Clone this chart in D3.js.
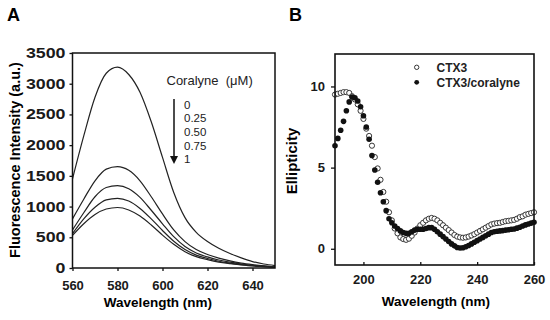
<!DOCTYPE html>
<html>
<head>
<meta charset="utf-8">
<script src="https://d3js.org/d3.v7.min.js"></script>
<style>
  body { margin: 0; background: #fff; }
  svg { font-family: Arial, "Liberation Sans", sans-serif; }
</style>
</head>
<body>
<svg id="chart" width="550" height="320"></svg>
<script>
// Panel A - fluorescence emission spectra
var wavelengthsA = [560, 565, 570, 575, 580, 585, 590, 595, 600, 605, 610, 615, 620, 625, 630, 635, 640, 645, 650];
var fluor0   = [1450, 2150, 2780, 3170, 3270, 3150, 2860, 2380, 1800, 1230, 820, 580, 430, 320, 235, 165, 105, 65, 40];
var fluor025 = [800, 1120, 1420, 1610, 1650, 1590, 1420, 1160, 880, 620, 430, 300, 220, 160, 115, 80, 55, 35, 20];
var fluor050 = [620, 900, 1160, 1310, 1340, 1290, 1150, 940, 720, 510, 350, 245, 180, 130, 95, 65, 45, 30, 18];
var fluor075 = [560, 800, 990, 1110, 1135, 1090, 970, 800, 610, 435, 300, 210, 155, 110, 80, 55, 38, 25, 15];
var fluor1   = [530, 720, 870, 960, 985, 945, 845, 700, 535, 385, 265, 185, 135, 95, 70, 50, 33, 22, 12];
var concLabels = ["0", "0.25", "0.50", "0.75", "1"];
var ticksAx = [560, 580, 600, 620, 640];
var ticksAy = [0, 500, 1000, 1500, 2000, 2500, 3000, 3500];

// Panel B - CD spectra, one point per nm from 190 to 260
var wavelengthsB = d3.range(190, 261);
var ctx3 = [9.5, 9.55, 9.6, 9.65, 9.65, 9.6, 9.4, 9.2, 8.9, 8.5,
  8.0, 7.4, 6.95, 6.35, 5.65, 4.95, 4.25, 3.5, 2.9, 2.25,
  1.75, 1.25, 0.95, 0.7, 0.6, 0.55, 0.62, 0.8, 1.0, 1.25,
  1.45, 1.6, 1.75, 1.85, 1.9, 1.85, 1.75, 1.6, 1.45, 1.3,
  1.15, 1.0, 0.85, 0.75, 0.7, 0.68, 0.7, 0.75, 0.82, 0.9,
  1.0, 1.1, 1.2, 1.3, 1.4, 1.5, 1.55, 1.58, 1.6, 1.65,
  1.7, 1.72, 1.75, 1.78, 1.85, 1.95, 2.0, 2.1, 2.15, 2.2, 2.25];
var ctx3Coralyne = [6.35, 6.8, 7.3, 7.85, 8.5, 9.05, 9.35, 9.3, 9.1, 8.75,
  8.2, 7.5, 6.75, 5.75, 4.85, 4.1, 3.45, 2.9, 2.35, 1.85,
  1.6, 1.4, 1.25, 1.1, 1.0, 0.95, 0.95, 1.05, 1.15, 1.2,
  1.2, 1.2, 1.25, 1.3, 1.3, 1.2, 1.05, 0.9, 0.75, 0.6,
  0.45, 0.3, 0.18, 0.08, 0.05, 0.06, 0.12, 0.2, 0.3, 0.4,
  0.5, 0.6, 0.7, 0.8, 0.9, 1.0, 1.05, 1.08, 1.1, 1.12,
  1.15, 1.17, 1.2, 1.22, 1.27, 1.33, 1.4, 1.47, 1.53, 1.58, 1.63];
var seriesB = ["CTX3", "CTX3/coralyne"];
var ticksBx = [200, 220, 240, 260];
var ticksBy = [0, 5, 10];

var svg = d3.select("#chart");

// tick text looks the same in both panels
function styleAxis(g) {
	g.select(".domain").remove();
	g.attr("font-family", null).attr("font-size", null);
	g.selectAll(".tick line").attr("stroke", "#111").attr("stroke-width", 1.3);
	g.selectAll(".tick text")
		.attr("font-size", "13px")
		.attr("font-weight", "bold")
		.attr("fill", "#1a1a1a");
}

// ---------- Panel A ----------
var xA = d3.scaleLinear().domain([560, 650]).range([72.5, 275]);
var yA = d3.scaleLinear().domain([0, 3500]).range([268, 53]);

var gA = svg.append("g");

gA.append("g")
	.attr("transform", "translate(0,268)")
	.call(d3.axisBottom(xA).tickValues(ticksAx).tickFormat(d3.format("d")).tickSize(3).tickPadding(10))
	.call(styleAxis);

// the y labels of panel A are drawn wide in the original
gA.append("g")
	.attr("transform", "translate(72.5,0)")
	.call(d3.axisLeft(yA).tickValues(ticksAy).tickFormat(d3.format("d")).tickSize(3).tickPadding(4))
	.call(styleAxis)
	.selectAll(".tick text")
	.attr("font-size", "14px")
	.attr("lengthAdjust", "spacingAndGlyphs")
	.attr("textLength", function(d) { return String(d).length * 9.9; });

var lineA = d3.line()
	.x(function(d) { return xA(d[0]); })
	.y(function(d) { return yA(d[1]); })
	.curve(d3.curveMonotoneX);

[fluor0, fluor025, fluor050, fluor075, fluor1].forEach(function(s) {
	gA.append("path")
		.datum(wavelengthsA.map(function(w, i) { return [w, s[i]]; }))
		.attr("fill", "none")
		.attr("stroke", "#222")
		.attr("stroke-width", 1.2)
		.attr("d", lineA);
});

gA.append("rect")
	.attr("x", xA(560)).attr("y", yA(3500))
	.attr("width", xA(650) - xA(560)).attr("height", yA(0) - yA(3500))
	.attr("fill", "none").attr("stroke", "#111").attr("stroke-width", 1.5);

// legend with arrow
gA.append("text").attr("x", 166.5).attr("y", 85)
	.attr("font-size", "13px").attr("fill", "#222")
	.style("white-space", "pre")
	.text("Coralyne  (\u03bcM)");
gA.append("line")
	.attr("x1", 174).attr("x2", 174).attr("y1", 99).attr("y2", 158)
	.attr("stroke", "#111").attr("stroke-width", 1.5);
gA.append("path")
	.attr("d", "M170,156 L178,156 L174,164 Z")
	.attr("fill", "#111");
gA.selectAll(".conc").data(concLabels).enter().append("text")
	.attr("x", 184)
	.attr("y", function(d, i) { return 108.5 + i * 13.7; })
	.attr("font-size", "11.5px").attr("fill", "#222")
	.text(function(d) { return d; });

gA.append("text").attr("x", xA(598)).attr("y", 307)
	.attr("text-anchor", "middle").attr("font-size", "13.5px").attr("font-weight", "bold")
	.text("Wavelength (nm)");
gA.append("text").attr("transform", "translate(20,160) rotate(-90)")
	.attr("text-anchor", "middle").attr("font-size", "14.5px").attr("font-weight", "bold")
	.text("Fluorescence Intensity (a.u.)");
gA.append("text").attr("x", 7).attr("y", 21)
	.attr("font-size", "18px").attr("font-weight", "bold").text("A");

// ---------- Panel B ----------
var xB = d3.scaleLinear().domain([190, 260]).range([335, 534]);
var yB = d3.scaleLinear().domain([-1, 12]).range([265, 54]);

var gB = svg.append("g");

gB.append("g")
	.attr("transform", "translate(0,265)")
	.call(d3.axisBottom(xB).tickValues(ticksBx).tickSize(-3).tickPadding(10))
	.call(styleAxis);

gB.append("g")
	.attr("transform", "translate(335,0)")
	.call(d3.axisLeft(yB).tickValues(ticksBy).tickSize(4).tickPadding(6))
	.call(styleAxis);

gB.selectAll(".open").data(wavelengthsB).enter().append("circle")
	.attr("cx", function(d) { return xB(d); })
	.attr("cy", function(d, i) { return yB(ctx3[i]); })
	.attr("r", 2.6)
	.attr("fill", "#fff").attr("stroke", "#222").attr("stroke-width", 0.9);

gB.selectAll(".filled").data(wavelengthsB).enter().append("circle")
	.attr("cx", function(d) { return xB(d); })
	.attr("cy", function(d, i) { return yB(ctx3Coralyne[i]); })
	.attr("r", 2.8)
	.attr("fill", "#111");

gB.append("rect")
	.attr("x", xB(190)).attr("y", yB(12))
	.attr("width", xB(260) - xB(190)).attr("height", yB(-1) - yB(12))
	.attr("fill", "none").attr("stroke", "#111").attr("stroke-width", 1.6);

// legend
gB.append("circle").attr("cx", 416.7).attr("cy", 67.3).attr("r", 2.2)
	.attr("fill", "#fff").attr("stroke", "#222").attr("stroke-width", 0.9);
gB.append("circle").attr("cx", 416.7).attr("cy", 82.3).attr("r", 2.4).attr("fill", "#111");
gB.selectAll(".leg").data(seriesB).enter().append("text")
	.attr("x", 436.5)
	.attr("y", function(d, i) { return 71.5 + i * 15; })
	.attr("font-size", "12px").attr("font-weight", "bold").attr("fill", "#222")
	.text(function(d) { return d; });

gB.append("text").attr("x", 436).attr("y", 306)
	.attr("text-anchor", "middle").attr("font-size", "13.5px").attr("font-weight", "bold")
	.text("Wavelength (nm)");
gB.append("text").attr("transform", "translate(297,161) rotate(-90)")
	.attr("text-anchor", "middle").attr("font-size", "15px").attr("font-weight", "bold")
	.text("Ellipticity");
gB.append("text").attr("x", 289).attr("y", 21)
	.attr("font-size", "18px").attr("font-weight", "bold").text("B");
</script>
</body>
</html>
